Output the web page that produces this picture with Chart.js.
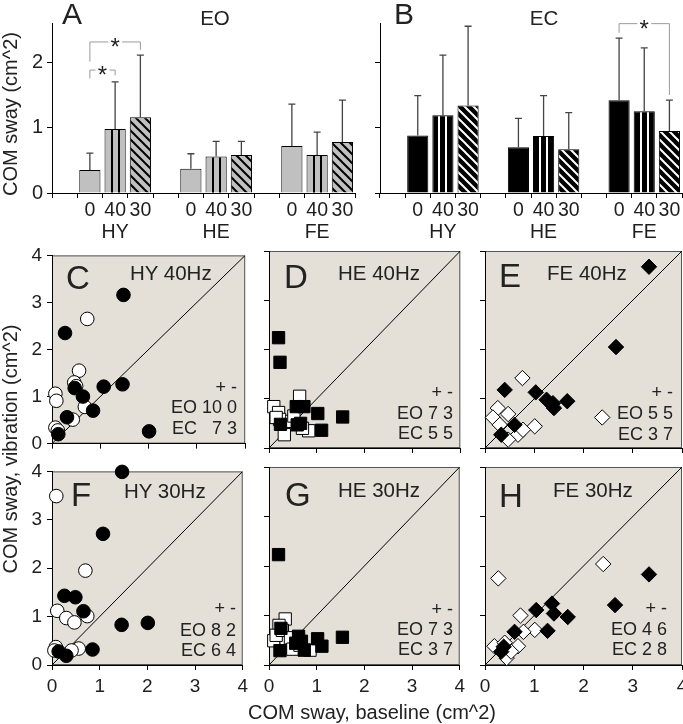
<!DOCTYPE html>
<html>
<head>
<meta charset="utf-8">
<script src="https://cdn.jsdelivr.net/npm/chart.js@4.4.0/dist/chart.umd.min.js"></script>
<style>
  body { margin: 0; background: #fff; width: 683px; height: 724px; position: relative; overflow: hidden;
         font-family: "Liberation Sans", Arial, sans-serif; color: #222; }
  canvas { position: absolute; }
  .t { position: absolute; white-space: pre; line-height: 1; }
</style>
</head>
<body>
<canvas id="barA" width="357" height="250" style="left:0;top:0"></canvas>
<canvas id="barB" width="343" height="250" style="left:340px;top:0"></canvas>
<canvas id="pC" width="253" height="221" style="left:0;top:239px"></canvas>
<canvas id="pD" width="221" height="221" style="left:249px;top:239px"></canvas>
<canvas id="pE" width="229" height="221" style="left:465px;top:239px"></canvas>
<canvas id="pF" width="253" height="255" style="left:0;top:455px"></canvas>
<canvas id="pG" width="221" height="255" style="left:249px;top:455px"></canvas>
<canvas id="pH" width="229" height="255" style="left:465px;top:455px"></canvas>
<script>
// =============================================================
//  COM sway — bar panels (A, B) and scatter panels (C–H)
// =============================================================

// ── DATA ─────────────────────────────────────────────────────

// bar slots: empty spacer, then 0 / 40 / 30 Hz for each group
const slotLabels = ['', '0', '40', '30', '', '0', '40', '30', '', '0', '40', '30'];
const groups = ['HY', 'HE', 'FE'];

const eoMean = [0.35, 0.98, 1.16, 0.37, 0.56, 0.58, 0.72, 0.58, 0.78];
const eoSD   = [0.26, 0.72, 0.95, 0.23, 0.23, 0.21, 0.64, 0.35, 0.64];
const ecMean = [0.88, 1.19, 1.34, 0.70, 0.87, 0.67, 1.42, 1.25, 0.95];
const ecSD   = [0.61, 0.92, 1.21, 0.44, 0.62, 0.56, 0.95, 0.97, 0.47];

// significance brackets: [from slot, to slot, level, left end, right end]
const sigEO = [[1, 3, 2.31, 2.01, 2.19], [1, 2, 1.88, 1.75, 1.80]];
const sigEC = [[9, 11, 2.59, 2.45, 1.50]];

const scatterTicks = [0, 1, 2, 3, 4];
const diagonal = [0, 4];

// [baseline, vibration] — filled = EC, open = EO
const hy40EC = [[1.48, 3.16], [0.27, 2.35], [1.07, 1.21], [1.46, 1.26], [0.47, 1.18],
                [0.64, 1.00], [0.85, 0.70], [0.31, 0.56], [0.13, 0.20], [2.01, 0.26]];
const hy40EO = [[0.73, 2.65], [0.56, 1.55], [0.46, 1.30], [0.50, 1.22], [0.07, 1.06],
                [0.09, 0.91], [0.68, 0.78], [0.43, 0.51], [0.07, 0.34], [0.12, 0.28]];
const he40EC = [[0.20, 2.24], [0.23, 1.74], [0.57, 0.84], [0.73, 0.84], [1.02, 0.70],
                [1.54, 0.63], [1.10, 0.36], [0.59, 0.47], [0.66, 0.50], [0.24, 0.48]];
const he40EO = [[0.64, 1.05], [0.10, 0.84], [0.20, 0.72], [0.45, 0.54], [0.22, 0.58],
                [0.15, 0.62], [0.52, 0.65], [0.32, 0.27], [0.83, 0.35], [0.70, 0.40]];
const fe40EC = [[3.33, 3.68], [2.66, 2.05], [0.40, 1.18], [1.03, 1.13], [1.25, 0.98],
                [1.38, 0.91], [1.40, 0.81], [1.67, 0.95], [0.60, 0.47], [0.33, 0.27]];
const fe40EO = [[0.76, 1.42], [0.26, 0.81], [0.47, 0.69], [0.16, 0.62], [0.30, 0.47],
                [0.67, 0.27], [1.01, 0.44], [2.38, 0.62], [0.47, 0.17], [0.77, 0.37]];
const hy30EC = [[1.47, 3.99], [1.07, 2.71], [0.26, 1.43], [0.49, 1.40], [0.66, 1.11],
                [1.46, 0.83], [2.01, 0.87], [0.85, 0.32], [0.14, 0.28], [0.30, 0.19]];
const hy30EO = [[0.09, 3.49], [0.70, 1.95], [0.11, 1.12], [0.30, 0.97], [0.47, 0.88],
                [0.74, 1.01], [0.08, 0.37], [0.05, 0.30], [0.56, 0.34], [0.41, 0.30]];
const he30EC = [[0.20, 2.23], [0.25, 0.74], [0.62, 0.58], [1.02, 0.53], [1.11, 0.38],
                [1.54, 0.56], [0.74, 0.30], [0.23, 0.29], [0.56, 0.44], [0.68, 0.48]];
const he30EO = [[0.34, 0.93], [0.21, 0.80], [0.10, 0.49], [0.36, 0.48], [0.15, 0.60],
                [0.28, 0.70], [0.45, 0.55], [0.86, 0.30], [0.50, 0.32], [0.65, 0.40]];
const fe30EC = [[3.33, 1.83], [2.64, 1.21], [1.04, 1.11], [1.36, 1.24], [1.40, 1.04],
                [1.68, 0.97], [1.27, 0.69], [0.60, 0.67], [0.38, 0.37], [0.33, 0.27]];
const fe30EO = [[0.27, 1.75], [2.40, 2.04], [0.72, 1.00], [1.01, 0.71], [0.78, 0.67],
                [0.19, 0.38], [0.67, 0.38], [0.44, 0.14], [0.53, 0.27], [0.40, 0.45]];

// ── DEFAULTS ─────────────────────────────────────────────────

const FONT = '"Liberation Sans", Arial, sans-serif';
Chart.defaults.font.family = FONT;
Chart.defaults.color = '#1e1e1e';
Chart.defaults.animation = false;
Chart.defaults.plugins.legend.display = false;
Chart.defaults.plugins.tooltip.enabled = false;

const PLOT_BG = '#e4e0d8';

// spread 9 group values over the 12 slots (spacers stay empty)
function toSlots(vals) {
  let k = 0;
  return slotLabels.map(s => s === '' ? null : vals[k++]);
}

function hatch(bg, fg) {
  const c = document.createElement('canvas');
  c.width = c.height = 9;
  const g = c.getContext('2d');
  g.fillStyle = bg;
  g.fillRect(0, 0, 9, 9);
  g.strokeStyle = fg;
  g.lineWidth = 2;
  g.beginPath();
  g.moveTo(-2, -2); g.lineTo(11, 11);
  g.moveTo(-2, 7);  g.lineTo(2, 11);
  g.moveTo(7, -2);  g.lineTo(11, 2);
  g.stroke();
  return g.createPattern(c, 'repeat');
}

// ── BAR PANELS ───────────────────────────────────────────────

function renderBars(id, means, sds, dark, sig, showY, yw, pr) {
  const base = dark ? '#000' : '#c0c0c0';
  const ink  = dark ? '#fff' : '#000';
  const pat  = hatch(base, ink);
  const labels = slotLabels.map((s, i) => s === '40' ? [s, groups[Math.floor(i / 4)]] : s);
  const sdSlots = toSlots(sds);

  const marks = {
    id: 'marks',
    afterDatasetsDraw(chart) {
      const { ctx, scales: { x, y } } = chart;
      const bars = chart.getDatasetMeta(0).data;
      ctx.save();
      bars.forEach((b, i) => {
        if (sdSlots[i] == null) return;
        const left = b.x - b.width / 2;
        if (slotLabels[i] === '40') {
          ctx.strokeStyle = ink;
          ctx.lineWidth = 2;
          [1, 2].forEach(k => {
            const xx = Math.round(left + b.width * k / 3);
            ctx.beginPath();
            ctx.moveTo(xx, b.y + 1);
            ctx.lineTo(xx, b.base);
            ctx.stroke();
          });
        }
        const top = y.getPixelForValue(chart.data.datasets[0].data[i] + sdSlots[i]);
        ctx.strokeStyle = '#444';
        ctx.lineWidth = 1.3;
        ctx.beginPath();
        ctx.moveTo(b.x, b.y);
        ctx.lineTo(b.x, top);
        ctx.moveTo(b.x - 3.5, top);
        ctx.lineTo(b.x + 3.5, top);
        ctx.stroke();
      });

      sig.forEach(([a, c, lvl, endA, endC]) => {
        const x1 = x.getPixelForValue(a), x2 = x.getPixelForValue(c);
        const yl = y.getPixelForValue(lvl);
        const xm = (x1 + x2) / 2;
        ctx.strokeStyle = '#9a9a9a';
        ctx.lineWidth = 1;
        ctx.beginPath();
        ctx.moveTo(x1, y.getPixelForValue(endA));
        ctx.lineTo(x1, yl);
        ctx.lineTo(xm - 7, yl);
        ctx.moveTo(xm + 7, yl);
        ctx.lineTo(x2, yl);
        ctx.lineTo(x2, y.getPixelForValue(endC));
        ctx.stroke();
        ctx.fillStyle = '#222';
        ctx.font = '24px ' + FONT;
        ctx.textAlign = 'center';
        ctx.textBaseline = 'alphabetic';
        ctx.fillText('*', xm, yl + 13);
      });
      ctx.restore();
    }
  };

  new Chart(document.getElementById(id), {
    type: 'bar',
    data: {
      labels,
      datasets: [{
        data: toSlots(means),
        backgroundColor: slotLabels.map(s => s === '30' ? pat : base),
        borderColor: '#000',
        borderWidth: 1,
        borderSkipped: 'bottom',
        categoryPercentage: 1,
        barPercentage: 0.84,
      }]
    },
    options: {
      responsive: false,
      layout: { padding: { top: 23, right: pr } },
      scales: {
        x: {
          ticks: { font: { size: 19.5, lineHeight: 22 / 19.5 }, padding: 2, maxRotation: 0, autoSkip: false },
          grid: { drawOnChartArea: false, tickLength: 5, color: '#000', offset: true },
          border: { color: '#000' },
          afterFit: s => { s.height = 57; },
        },
        y: {
          min: 0, max: 2.6,
          ticks: { stepSize: 1, includeBounds: false, display: showY, font: { size: 20 }, padding: 4 },
          grid: { drawOnChartArea: false, tickLength: 5, color: '#000' },
          border: { color: '#000' },
          afterFit: s => { s.width = yw; },
        }
      }
    },
    plugins: [marks]
  });
}

renderBars('barA', eoMean, eoSD, false, sigEO, true, 52, 2);
renderBars('barB', ecMean, ecSD, true, sigEC, false, 40, 1);

// ── SCATTER PANELS ───────────────────────────────────────────

const frame = {
  id: 'frame',
  beforeDraw(chart) {
    const { ctx, chartArea: a } = chart;
    ctx.save();
    ctx.fillStyle = PLOT_BG;
    ctx.fillRect(a.left, a.top, a.width, a.height);
    ctx.strokeStyle = '#555';
    ctx.lineWidth = 1;
    ctx.strokeRect(a.left + 0.5, a.top + 0.5, a.width - 1, a.height - 1);
    ctx.restore();
  }
};

const panels = [
  { id: 'pC', ec: hy40EC, eo: hy40EO, style: 'circle',  r: 6.8, xLab: false, yLab: true,  yw: 52, xh: 12, pr: 4 },
  { id: 'pD', ec: he40EC, eo: he40EO, style: 'rect',    r: 8.7, xLab: false, yLab: false, yw: 20, xh: 12, pr: 4 },
  { id: 'pE', ec: fe40EC, eo: fe40EO, style: 'rectRot', r: 7.7, xLab: false, yLab: false, yw: 20, xh: 12, pr: 12 },
  { id: 'pF', ec: hy30EC, eo: hy30EO, style: 'circle',  r: 6.8, xLab: true,  yLab: true,  yw: 52, xh: 45, pr: 4 },
  { id: 'pG', ec: he30EC, eo: he30EO, style: 'rect',    r: 8.7, xLab: true,  yLab: false, yw: 20, xh: 45, pr: 4 },
  { id: 'pH', ec: fe30EC, eo: fe30EO, style: 'rectRot', r: 7.7, xLab: true,  yLab: false, yw: 20, xh: 45, pr: 12 },
];

function linAxis(showLabels, fit) {
  return {
    type: 'linear', min: scatterTicks[0], max: scatterTicks[scatterTicks.length - 1],
    ticks: { stepSize: 1, display: showLabels, font: { size: 19 }, padding: 5 },
    grid: { drawOnChartArea: false, tickLength: 5, color: '#000' },
    border: { color: '#000' },
    afterFit: fit,
  };
}

panels.forEach(p => {
  const pts = arr => arr.map(([x, y]) => ({ x, y }));
  new Chart(document.getElementById(p.id), {
    type: 'scatter',
    data: {
      datasets: [
        { data: pts(p.ec), pointStyle: p.style, pointRadius: p.r, backgroundColor: '#000',
          borderColor: '#000', borderWidth: 1, clip: false },
        { data: pts(p.eo), pointStyle: p.style, pointRadius: p.r, backgroundColor: '#fff',
          borderColor: '#000', borderWidth: 1, clip: false },
        { data: diagonal.map(v => ({ x: v, y: v })), showLine: true, pointRadius: 0,
          borderColor: '#000', borderWidth: 1 },
      ]
    },
    options: {
      responsive: false,
      layout: { padding: { top: 12, right: p.pr } },
      scales: {
        x: linAxis(p.xLab, s => { s.height = p.xh; }),
        y: linAxis(p.yLab, s => { s.width = p.yw; }),
      }
    },
    plugins: [frame]
  });
});

// ── TEXT OVERLAYS ────────────────────────────────────────────

function addText(txt, x, yc, size, align = 'left', rotate = false) {
  const d = document.createElement('div');
  d.className = 't';
  d.textContent = txt;
  d.style.fontSize = size + 'px';
  d.style.left = x + 'px';
  if (rotate) {
    d.style.top = yc + 'px';
    d.style.transform = 'translate(-50%, -50%) rotate(-90deg)';
  } else {
    d.style.top = (yc - 0.49 * size) + 'px';
    const tx = align === 'center' ? '-50%' : align === 'right' ? '-100%' : '0';
    d.style.transform = `translateX(${tx})`;
  }
  document.body.appendChild(d);
}

addText('A', 62, 14, 30);
addText('EO', 215, 18.5, 20.5, 'center');
addText('B', 394, 14, 30);
addText('EC', 544, 18.5, 20.5, 'center');
addText('COM sway (cm^2)', 10, 114, 20, 'center', true);
addText('COM sway, vibration (cm^2)', 10, 449, 20, 'center', true);
addText('COM sway, baseline (cm^2)', 372, 712, 20, 'center');

const notes = [
  ['C', 66, 277, 'HY 40Hz', 130, 273, 237, [387, 407, 427.5], ['EO 10 0', 'EC   7 3']],
  ['D', 284, 276, 'HE 40Hz', 338, 273, 453, [391.7, 412.5, 432.5], ['EO 7 3', 'EC 5 5']],
  ['E', 499, 275, 'FE 40Hz', 547, 273, 673, [391.7, 413, 433.7], ['EO 5 5', 'EC 3 7']],
  ['F', 71, 494, 'HY 30Hz', 124, 491.5, 236, [608.3, 629.7, 649.7], ['EO 8 2', 'EC 6 4']],
  ['G', 285, 494, 'HE 30Hz', 338, 490.5, 453, [609, 629.3, 649.3], ['EO 7 3', 'EC 3 7']],
  ['H', 499, 495, 'FE 30Hz', 553, 490, 667, [608.3, 629.3, 649], ['EO 4 6', 'EC 2 8']],
];
notes.forEach(([letter, lx, ly, title, tx, ty, rx, ys, rows]) => {
  addText(letter, lx, ly, 33);
  addText(title, tx, ty, 20.5);
  addText('+ -', rx, ys[0], 18, 'right');
  addText(rows[0], rx, ys[1], 18, 'right');
  addText(rows[1], rx, ys[2], 18, 'right');
});
</script>
</body>
</html>
